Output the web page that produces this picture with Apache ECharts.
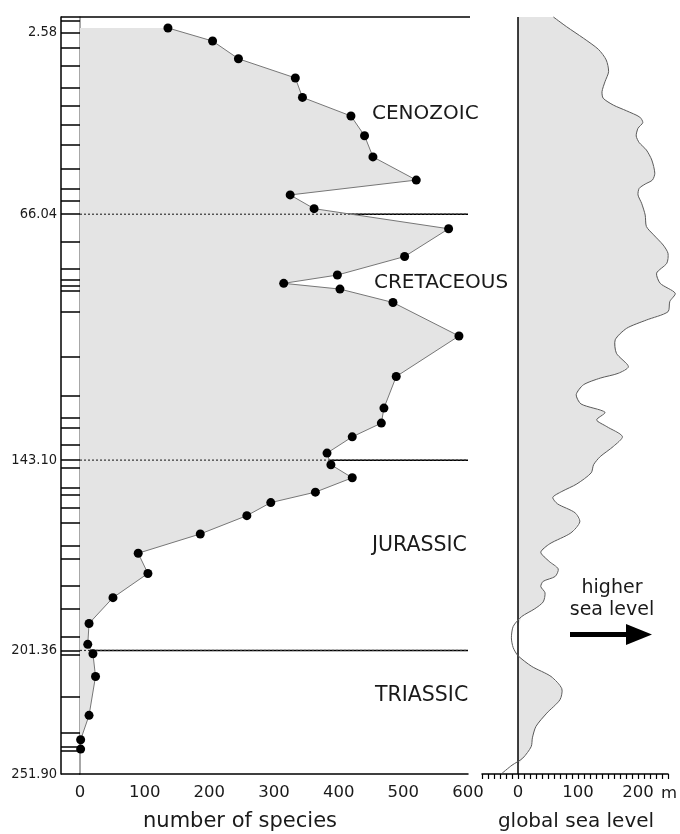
<!DOCTYPE html>
<html><head><meta charset="utf-8">
<script src="https://cdn.jsdelivr.net/npm/echarts@6/dist/echarts.min.js"></script>
<style>html,body{margin:0;padding:0;background:#fff}#c{width:680px;height:834px}</style>
</head><body><div id="c"></div>
<script>
// ---- stratigraphic scale (age in Ma -> relative height in the column) ----
const scaleAges    = [0, 2.58, 66.04, 143.10, 201.36, 251.90];
const scaleHeights = [0, 0.02073, 0.26053, 0.58537, 0.83679, 1];
const ageTickLabels = ['2.58', '66.04', '143.10', '201.36', '251.90'];
const periodBoundaries = [66.04, 143.10, 201.36];
const periodNames = ['CENOZOIC', 'CRETACEOUS', 'JURASSIC', 'TRIASSIC'];
const stageBoundaries = [0.6, 2.58, 8.0, 14.2, 21.8, 28.1, 34.6, 41.8, 50.2, 57.2, 61.4, 66.04,
  74.6, 83.2, 86.6, 88.4, 90.1, 96.6, 110.8, 122.9, 129.8, 132.9, 138.3, 143.10,
  145.5, 151.5, 153.7, 157.6, 162.2, 169.3, 173.3, 181.6, 188.6, 197.1, 201.36,
  203.1, 220.2, 234.9, 240.6, 242.2];

// ---- number of species ----
const speciesAges = [1.8, 5.5, 11.7, 18.4, 25.2, 31.7, 38.6, 46.0, 54.1, 59.3, 64.1,
  70.6, 79.3, 85.1, 87.7, 89.5, 93.7, 104.2, 116.9, 126.8, 131.5, 135.8, 140.9,
  144.5, 148.5, 152.9, 156.1, 160.1, 165.7, 171.6, 177.8, 185.2, 193.1, 199.5,
  202.7, 212.0, 227.9, 237.9, 241.7];
const speciesCounts = [136, 205, 245, 333, 344, 419, 440, 453, 520, 325, 362,
  570, 502, 398, 315, 402, 484, 586, 489, 470, 466, 421, 382,
  388, 421, 364, 295, 258, 186, 90, 105, 51, 14, 12,
  20, 24, 14, 1, 1];

// ---- global sea level (m) ----
const seaLevelAges = [0, 1.6, 4.5, 8.4, 12.1, 16.2, 19.7, 23.2, 25.5, 27.9,
  29.9, 32.1, 34.0, 36.0, 38.7, 41.0, 43.6, 47.1, 51.7, 54.1,
  55.5, 57.0, 59.3, 62.2, 66.3, 69.9, 72.5, 75.7, 78.3, 81.4,
  84.5, 87.7, 90.8, 93.4, 96.6, 99.2, 101.8, 105.4, 109.6, 113.8,
  115.9, 117.4, 119.5, 122.6, 125.5, 128.1, 130.5, 132.6, 135.7, 138.8,
  142.0, 144.5, 147.0, 150.4, 152.7, 154.5, 156.5, 159.2, 162.0, 165.4,
  168.7, 171.3, 174.1, 176.4, 178.7, 180.2, 181.8, 183.7, 186.5, 188.6,
  191.0, 194.0, 197.5, 200.5, 203.5, 207.9, 212.0, 217.0, 221.5, 227.0,
  232.4, 237.1, 240.7, 245.4, 248.3, 251.9];
const seaLevelMeters = [59, 81, 109, 134, 147, 151, 145, 140, 142, 159,
  181, 203, 208, 200, 197, 202, 214, 223, 228, 224,
  212, 202, 200, 206, 212, 214, 226, 242, 250, 248,
  231, 237, 262, 253, 250, 214, 181, 162, 164, 184,
  167, 137, 109, 97, 105, 145, 131, 148, 174, 159,
  137, 126, 122, 98, 73, 58, 66, 95, 103, 88,
  53, 38, 52, 67, 62, 42, 38, 45, 42, 28,
  6, -8, -11, -8, 0, 23, 55, 73, 70, 48,
  30, 24, 22, 8, -10, -28];
const speciesTicks = [0, 100, 200, 300, 400, 500, 600];
const seaLevelLabels = [0, 100, 200];

function toHeight(age) {
  for (let i = 1; i < scaleAges.length; i++) {
    if (age <= scaleAges[i]) {
      const t = (age - scaleAges[i - 1]) / (scaleAges[i] - scaleAges[i - 1]);
      return scaleHeights[i - 1] + t * (scaleHeights[i] - scaleHeights[i - 1]);
    }
  }
  return 1;
}
const labelHeights = ageTickLabels.map(s => toHeight(parseFloat(s)));
const seaTicks = [];
for (let v = -60; v <= 250; v += 10) seaTicks.push(v);

const COND = '"DejaVu Sans Condensed", "DejaVu Sans", sans-serif';
const SANS = '"DejaVu Sans", sans-serif';
const INK = '#1a1a1a';

const speciesData = speciesCounts.map((c, i) => [c, toHeight(speciesAges[i])]);
const seaData = seaLevelMeters.map((m, i) => [m, toHeight(seaLevelAges[i])]);

const chart = echarts.init(document.getElementById('c'), null, {renderer: 'canvas'});
chart.setOption({
  animation: false,
  backgroundColor: '#fff',
  grid: [
    {left: 80, top: 17, width: 388, height: 757},
    {left: 482, top: 17, width: 186, height: 757}
  ],
  xAxis: [
    {gridIndex: 0, type: 'value', min: 0, max: 600, position: 'bottom',
     axisLine: {onZero: false, lineStyle: {color: '#000', width: 1.5}},
     axisTick: {show: false}, splitLine: {show: false},
     axisLabel: {color: INK, fontFamily: SANS, fontSize: 16.5, margin: 10,
       customValues: speciesTicks}},
    {gridIndex: 1, type: 'value', min: -60, max: 250, position: 'bottom',
     axisLine: {onZero: false, lineStyle: {color: '#000', width: 1.5}},
     axisTick: {customValues: seaTicks, length: 5, lineStyle: {color: '#000', width: 1.2}},
     splitLine: {show: false},
     axisLabel: {customValues: seaLevelLabels, color: INK, fontFamily: SANS, fontSize: 16.5, margin: 10}}
  ],
  yAxis: [
    {gridIndex: 0, type: 'value', min: 0, max: 1, inverse: true,
     axisLine: {onZero: false, lineStyle: {color: '#8a8a8a', width: 1.5}},
     axisTick: {customValues: stageBoundaries.map(toHeight), length: 19,
       lineStyle: {color: '#000', width: 1.5}},
     axisLabel: {show: false}, splitLine: {show: false}},
    {gridIndex: 0, type: 'value', min: 0, max: 1, inverse: true, position: 'left', offset: 19,
     axisLine: {show: true, onZero: false, lineStyle: {color: '#000', width: 1.5}},
     axisTick: {show: false}, splitLine: {show: false},
     axisLabel: {customValues: labelHeights, margin: 4, color: INK, fontFamily: COND, fontSize: 14.5,
       formatter: function (v) {
         let best = 0, d = 9;
         labelHeights.forEach((h, i) => { if (Math.abs(h - v) < d) { d = Math.abs(h - v); best = i; } });
         return ageTickLabels[best];
       }}},
    {gridIndex: 1, type: 'value', min: 0, max: 1, inverse: true, show: false,
     axisLine: {onZero: false}}
  ],
  series: [
    { // solid period boundaries (hidden under the fill)
      type: 'custom', xAxisIndex: 0, yAxisIndex: 0, z: 1, clip: false, silent: true,
      data: [[0, 0]],
      renderItem: function (params, api) {
        return {type: 'group', children: periodBoundaries.map(a => {
          const p0 = api.coord([0, toHeight(a)]), p1 = api.coord([600, toHeight(a)]);
          return {type: 'line', shape: {x1: p0[0], y1: p0[1], x2: p1[0], y2: p1[1]},
                  style: {stroke: '#000', lineWidth: 1.5}};
        })};
      }
    },
    { // species area fill
      type: 'custom', xAxisIndex: 0, yAxisIndex: 0, z: 2, clip: false, silent: true,
      data: [[0, 0]],
      renderItem: function (params, api) {
        const pts = [api.coord([0, speciesData[0][1]])];
        speciesData.forEach(d => pts.push(api.coord(d)));
        pts.push(api.coord([0, speciesData[speciesData.length - 1][1]]));
        return {type: 'polygon', shape: {points: pts}, style: {fill: '#e4e4e4', stroke: null}};
      }
    },
    { // dotted period boundaries (visible inside the fill)
      type: 'custom', xAxisIndex: 0, yAxisIndex: 0, z: 3, clip: false, silent: true,
      data: [[0, 0]],
      renderItem: function (params, api) {
        return {type: 'group', children: periodBoundaries.map(a => {
          const p0 = api.coord([0, toHeight(a)]), p1 = api.coord([600, toHeight(a)]);
          return {type: 'line', shape: {x1: p0[0], y1: p0[1], x2: p1[0], y2: p1[1]},
                  style: {stroke: '#333', lineWidth: 1.2, lineDash: [2, 2]}};
        })};
      }
    },
    {
      type: 'line', xAxisIndex: 0, yAxisIndex: 0, z: 4, data: speciesData,
      symbol: 'circle', symbolSize: 9, itemStyle: {color: '#000'},
      lineStyle: {color: '#777', width: 1}, silent: true
    },
    { // sea level
      type: 'custom', xAxisIndex: 1, yAxisIndex: 2, z: 2, clip: false, silent: true,
      data: [[0, 0]],
      renderItem: function (params, api) {
        const fillPts = [api.coord([0, seaData[0][1]])];
        seaData.forEach(d => fillPts.push(api.coord([Math.max(0, d[0]), d[1]])));
        fillPts.push(api.coord([0, seaData[seaData.length - 1][1]]));
        const linePts = seaData.map(d => api.coord(d));
        const z0 = api.coord([0, 0]), z1 = api.coord([0, 1]);
        return {type: 'group', children: [
          {type: 'polygon', shape: {points: fillPts}, style: {fill: '#e4e4e4', stroke: null}},
          {type: 'line', shape: {x1: z0[0], y1: z0[1], x2: z1[0], y2: z1[1]},
           style: {stroke: '#000', lineWidth: 1.5}},
          {type: 'polyline', shape: {points: linePts, smooth: 0.25},
           style: {stroke: '#5a5a5a', lineWidth: 1, fill: null}}
        ]};
      }
    }
  ],
  graphic: [
    {type: 'line', shape: {x1: 61, y1: 17, x2: 470, y2: 17}, style: {stroke: '#000', lineWidth: 1.5}, z: 10},
    {type: 'line', shape: {x1: 61, y1: 774, x2: 80, y2: 774}, style: {stroke: '#000', lineWidth: 1.5}, z: 10},
    {type: 'text', left: 372, top: 104, style: {text: periodNames[0], font: '20px ' + SANS, fill: INK}},
    {type: 'text', left: 374, top: 273, style: {text: periodNames[1], font: '20px ' + SANS, fill: INK}},
    {type: 'text', left: 372, top: 535, style: {text: periodNames[2], font: '20.5px ' + SANS, fill: INK}},
    {type: 'text', left: 375, top: 685, style: {text: periodNames[3], font: '20.5px ' + SANS, fill: INK}},
    {type: 'text', x: 612, y: 588, style: {text: 'higher', font: '19px ' + SANS, fill: INK, align: 'center', verticalAlign: 'middle'}},
    {type: 'text', x: 612, y: 610, style: {text: 'sea level', font: '19px ' + SANS, fill: INK, align: 'center', verticalAlign: 'middle'}},
    {type: 'line', shape: {x1: 570, y1: 634.5, x2: 630, y2: 634.5}, style: {stroke: '#000', lineWidth: 5}},
    {type: 'polygon', shape: {points: [[626, 624], [652, 634.5], [626, 645]]}, style: {fill: '#000'}},
    {type: 'text', x: 661, y: 794, style: {text: 'm', font: '16.5px ' + SANS, fill: INK, align: 'left', verticalAlign: 'middle'}},
    {type: 'text', x: 240, y: 822, style: {text: 'number of species', font: '21px ' + SANS, fill: INK, align: 'center', verticalAlign: 'middle'}},
    {type: 'text', x: 576, y: 822, style: {text: 'global sea level', font: '20px ' + SANS, fill: INK, align: 'center', verticalAlign: 'middle'}}
  ]
});
</script>
</body></html>
